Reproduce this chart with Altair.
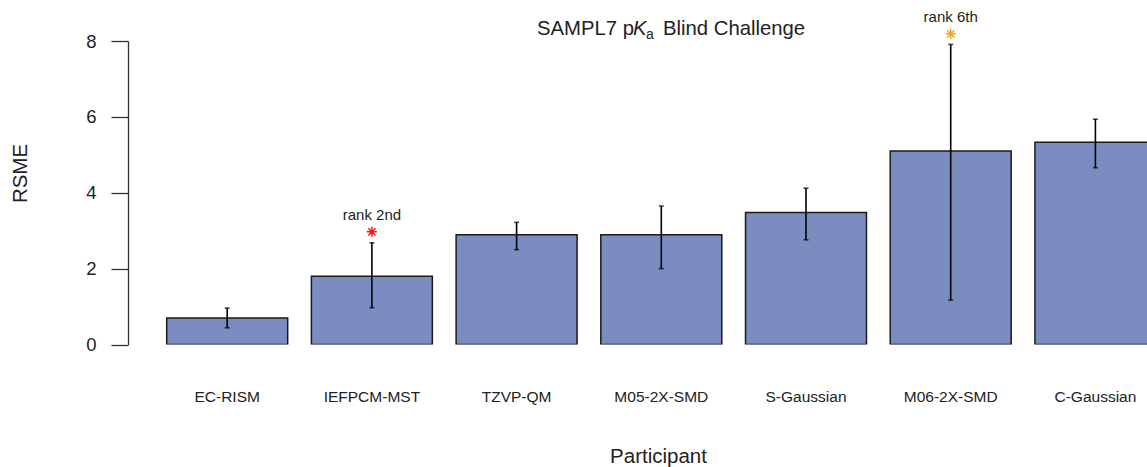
import altair as alt
import pandas as pd

# ---- data ----
participants = ["EC-RISM", "IEFPCM-MST", "TZVP-QM", "M05-2X-SMD",
                "S-Gaussian", "M06-2X-SMD", "C-Gaussian"]
rmse = [0.70, 1.80, 2.89, 2.89, 3.48, 5.10, 5.33]
err_low = [0.44, 0.97, 2.50, 2.00, 2.76, 1.17, 4.66]
err_high = [0.96, 2.68, 3.22, 3.65, 4.12, 7.91, 5.94]

rank_participants = ["IEFPCM-MST", "M06-2X-SMD"]
rank_y = [2.97, 8.19]
rank_labels = ["rank 2nd", "rank 6th"]

y_ticks = [0, 2, 4, 6, 8]
title_parts = ["SAMPL7 p", "K", "a", "Blind Challenge"]

df = pd.DataFrame({"participant": participants, "rmse": rmse,
                   "lo": err_low, "hi": err_high})
ann = pd.DataFrame({"participant": rank_participants, "y": rank_y,
                    "label": rank_labels})

FONT = "Liberation Sans"
TXT = "#222222"

x_scale = alt.Scale(domain=participants, range=[38.7, 1027.9],
                    paddingInner=0.164, paddingOuter=0)
y_scale = alt.Scale(domain=[0, 8], nice=False, zero=True)

x_axis = alt.Axis(title="Participant", domain=False, ticks=False, tickSize=0,
                  grid=False, labelAngle=0, labelPadding=45,
                  labelFont=FONT, labelFontSize=15.5, labelColor=TXT,
                  titleFont=FONT, titleFontSize=20.5, titleFontWeight="normal",
                  titleColor=TXT, titleX=530, titleY=117.5,
                  titleAlign="center", titleBaseline="alphabetic")
y_axis = alt.Axis(title="RSME", values=y_ticks, grid=False,
                  tickSize=17, tickWidth=1.3, tickColor="#333333",
                  domainWidth=1.3, domainColor="#333333",
                  labelPadding=15, labelFont=FONT, labelFontSize=18.5,
                  labelColor=TXT,
                  titleFont=FONT, titleFontSize=20.5, titleFontWeight="normal",
                  titleColor=TXT, titleX=-108, titleY=132, titleAngle=270,
                  titleAlign="center", titleBaseline="middle")


def X():
    return alt.X("participant:N", scale=x_scale, axis=x_axis)


def Y(field):
    return alt.Y(f"{field}:Q", scale=y_scale, axis=y_axis)


base = alt.Chart(df)

bars = base.mark_bar(fill="#7B8CC0", stroke="#1a1a1a", strokeWidth=1.5,
                     clip=True).encode(x=X(), y=Y("rmse"))

err = base.mark_rule(color="#000000", strokeWidth=1.6).encode(
    x=X(), y=Y("lo"), y2="hi:Q")
cap_lo = base.mark_tick(color="#000000", size=5, thickness=1.6).encode(
    x=X(), y=Y("lo"))
cap_hi = base.mark_tick(color="#000000", size=5, thickness=1.6).encode(
    x=X(), y=Y("hi"))

STAR = ("M-1,0L1,0M0,-1L0,1M-0.72,-0.72L0.72,0.72M-0.72,0.72L0.72,-0.72")
stars = alt.Chart(ann).mark_point(shape=STAR, size=100, filled=False,
                                  strokeWidth=1.5, opacity=1).encode(
    x=X(), y=Y("y"),
    color=alt.condition(alt.datum.participant == "IEFPCM-MST",
                        alt.value("#FF1010"), alt.value("#F2A52A")))
rank_text = alt.Chart(ann).mark_text(font=FONT, fontSize=15, color=TXT,
                                     dy=-12, baseline="alphabetic").encode(
    x=X(), y=Y("y"), text="label:N")


def title_piece(text, x, y, size=20.3, style="normal"):
    return alt.Chart(pd.DataFrame({"t": [text]})).mark_text(
        font=FONT, fontSize=size, fontStyle=style, color=TXT,
        align="left", baseline="alphabetic").encode(
        x=alt.value(x), y=alt.value(y), text="t:N")


t1 = title_piece(title_parts[0], 409, -6)
t2 = title_piece(title_parts[1], 505, -6, style="italic")
t3 = title_piece(title_parts[2], 518, -2, size=14)
t4 = title_piece(title_parts[3], 535, -6)

chart = alt.layer(bars, err, cap_lo, cap_hi, stars, rank_text,
                  t1, t2, t3, t4).properties(
    width=1019, height=303.5,
    autosize=alt.AutoSizeParams(type="none"),
    padding={"left": 128, "top": 41, "right": 0, "bottom": 122.5},
    background="white",
).configure_view(stroke=None)

chart.save("out.html", embed_options={"renderer": "svg", "actions": False})
